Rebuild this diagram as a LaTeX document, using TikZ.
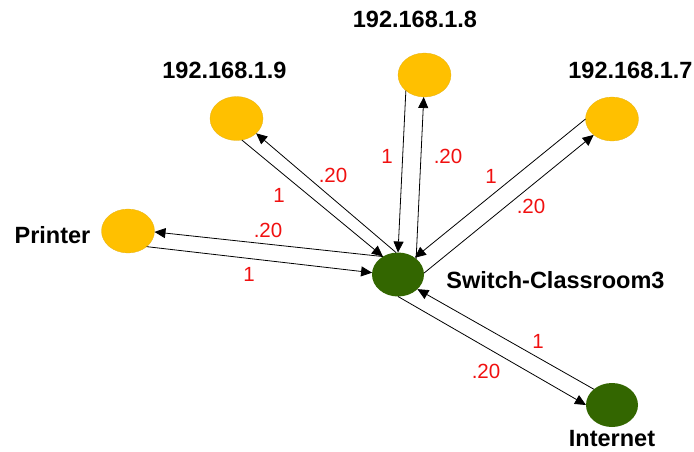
\documentclass[tikz,border=0pt]{standalone}
\usepackage{fontspec}
\setmainfont{Liberation Sans}
\usetikzlibrary{arrows.meta,shapes.geometric}
\definecolor{hostorange}{HTML}{FFC000}
\definecolor{swgreen}{HTML}{336600}
\definecolor{wred}{HTML}{F01010}
\tikzset{
  hostnode/.style={ellipse, fill=hostorange, draw=hostorange!80!gray, line width=0.3pt, minimum width=53pt, minimum height=44pt, inner sep=0pt, outer sep=0pt},
  swnode/.style={ellipse, fill=swgreen, minimum width=52pt, minimum height=44pt, inner sep=0pt, outer sep=0pt},
  nametext/.style={anchor=base, inner sep=0pt, font=\fontsize{23.5}{28}\selectfont\bfseries},
  wttext/.style={anchor=base, inner sep=0pt, text=wred, font=\fontsize{20.5}{24}\selectfont},
  linkline/.style={draw=black, line width=0.8pt, -{Triangle[length=11pt,width=10pt]}}
}
\begin{document}
\begin{tikzpicture}[x=1pt,y=-1pt]
\useasboundingbox (0,0) rectangle (694,451);
% nodes
\node[swnode]   (sw)   at (398,274.5) {};
\node[hostnode] (pr)   at (128,231) {};
\node[hostnode] (n9)   at (236.5,118.5) {};
\node[hostnode] (n8)   at (424.5,75) {};
\node[hostnode] (n7)   at (612,119) {};
\node[swnode]   (inet) at (612,405) {};
% names
\node[nametext] (tpr) at (52.5,243) {Printer};
\node[nametext] (t9)  at (224.5,78) {192.168.1.9};
\node[nametext] (t8)  at (415,27) {192.168.1.8};
\node[nametext] (t7)  at (630.5,78) {192.168.1.7};
\node[nametext] (tsw) at (555.5,288) {Switch-Classroom3};
\node[nametext] (tin) at (612,446) {Internet};
% links
\draw[linkline] (sw.130) -- (pr.-2);
\draw[linkline] (pr.-40) -- (sw.176);
\draw[linkline] (n9.-76) -- (sw.130);
\draw[linkline] (sw.95) -- (n9.-37);
\draw[linkline] (n8.-140) -- (sw.90);
\draw[linkline] (sw.41) -- (n8.-92);
\draw[linkline] (n7.180) -- (sw.45);
\draw[linkline] (sw.3) -- (n7.-139);
\draw[linkline] (inet.139) -- (sw.-37);
\draw[linkline] (sw.-90) -- (inet.180);
% weights
\node[wttext] (w1)  at (268,237) {.20};
\node[wttext] (w2)  at (249,281) {1};
\node[wttext] (w3)  at (279,202) {1};
\node[wttext] (w4)  at (333,182) {.20};
\node[wttext] (w5)  at (387,163) {1};
\node[wttext] (w6)  at (448,163) {.20};
\node[wttext] (w7)  at (491,183) {1};
\node[wttext] (w8)  at (531,213) {.20};
\node[wttext] (w9)  at (538,348) {1};
\node[wttext] (w10) at (486,378) {.20};
\end{tikzpicture}
\end{document}
